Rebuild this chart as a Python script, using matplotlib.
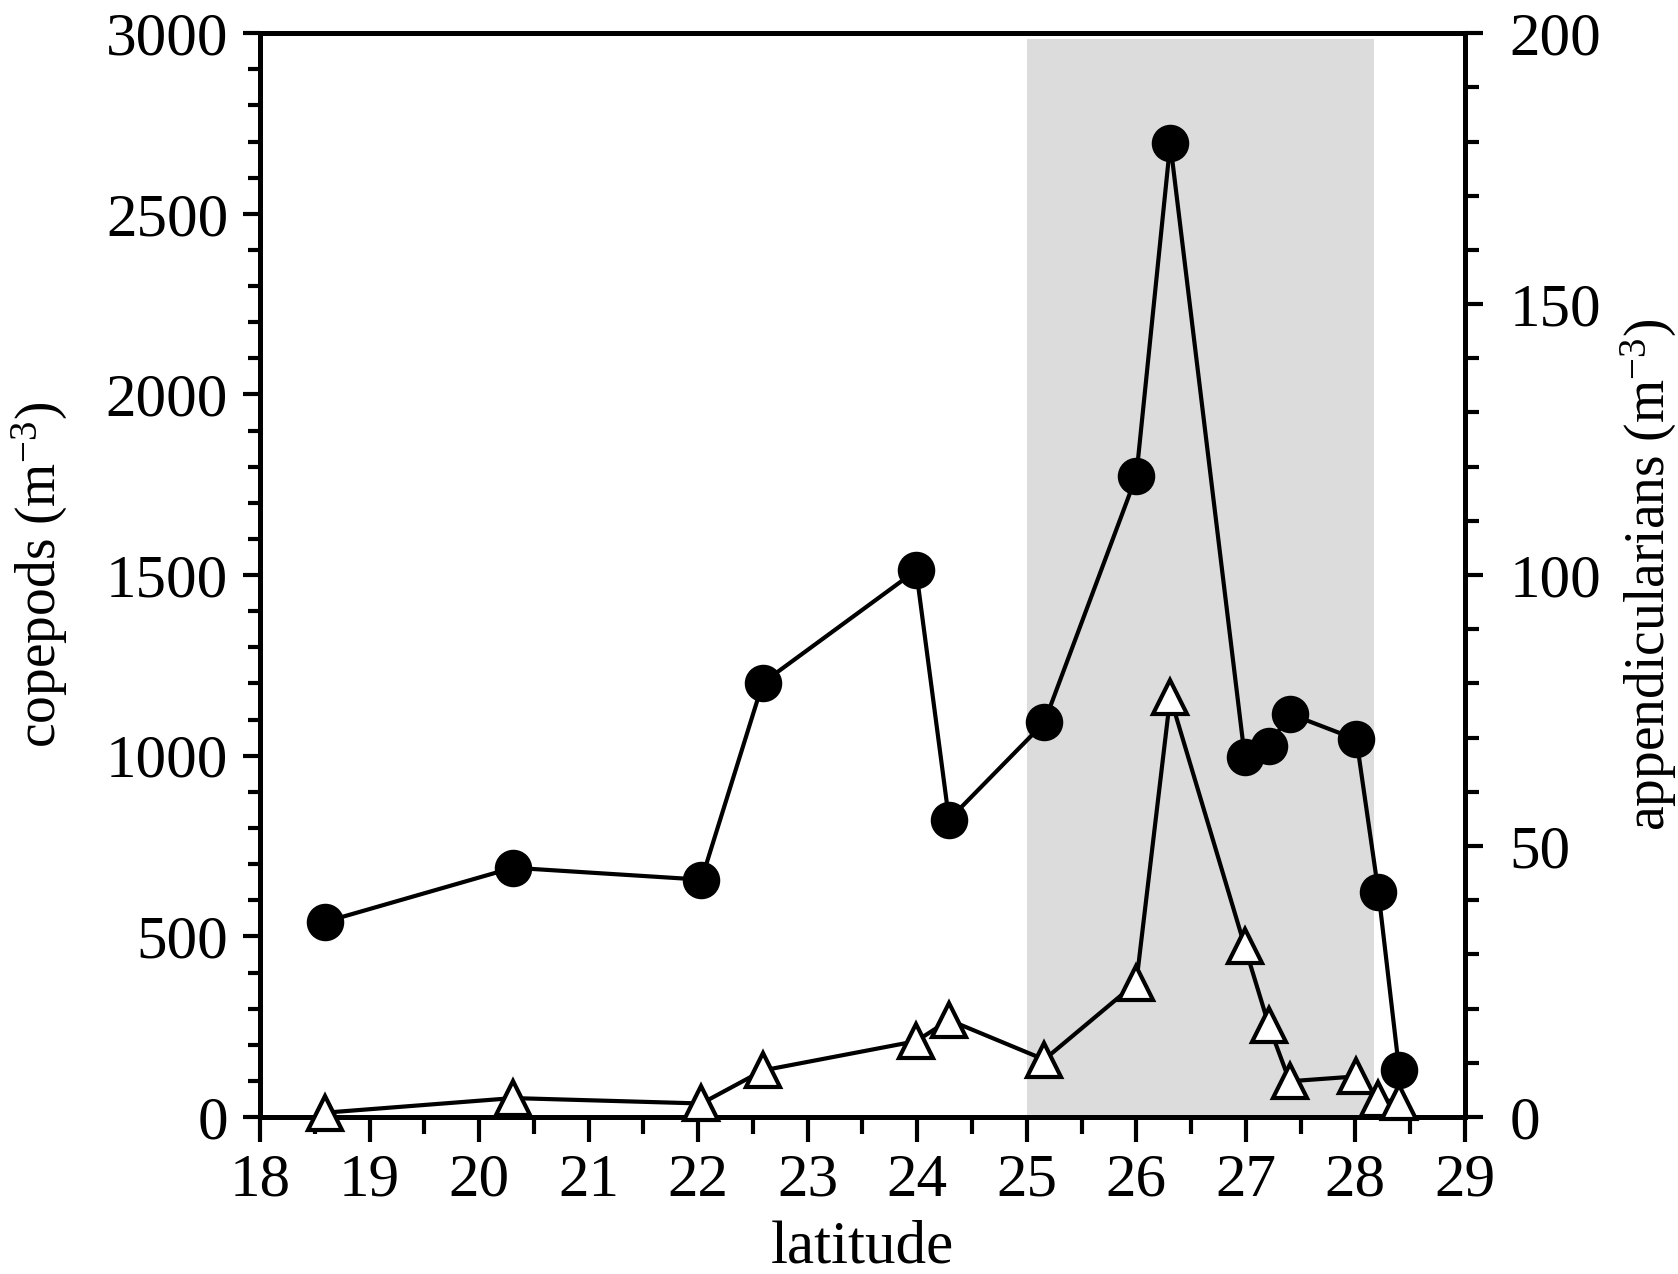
import matplotlib.pyplot as plt
from matplotlib.ticker import MultipleLocator

plt.rcParams['font.family'] = ['Liberation Serif', 'DejaVu Serif']
plt.rcParams['mathtext.fontset'] = 'custom'
plt.rcParams['mathtext.rm'] = 'Liberation Serif'
plt.rcParams['mathtext.it'] = 'Liberation Serif:italic'

# latitude of stations
lat = [18.59, 20.31, 22.03, 22.59, 23.99, 24.29, 25.16, 26.0, 26.31,
       26.99, 27.21, 27.40, 28.01, 28.21, 28.40]
# copepods (m^-3), left axis
copepods = [540, 690, 657, 1202, 1513, 823, 1092, 1774, 2695,
            997, 1027, 1116, 1045, 624, 130]
# appendicularians (m^-3), right axis
appendic = [0.8, 3.5, 2.5, 8.6, 14.0, 17.9, 10.6, 24.8, 77.5,
            31.5, 16.9, 6.6, 7.5, 3.3, 2.7]
# shaded latitude band
band = (25.0, 28.17)
band_top = 2985

fs = 44
fs_ylab = 40

fig = plt.figure(figsize=(16.78, 12.74), dpi=100)
ax = fig.add_axes([0.155, 0.1232, 0.718, 0.8508])
ax2 = ax.twinx()

ax.fill_between(band, 0, band_top, color='#dcdcdc', lw=0, zorder=0)
ax.plot(lat, copepods, '-o', color='black', lw=3, ms=26, mfc='black',
        mec='black', zorder=3)
ax2.plot(lat, appendic, '-^', color='black', lw=3, ms=24, mfc='white',
         mec='black', mew=3, zorder=3, clip_on=False)

ax.set_xlim(18, 29)
ax.set_ylim(0, 3000)
ax2.set_ylim(0, 200)

ax.xaxis.set_major_locator(MultipleLocator(1))
ax.xaxis.set_minor_locator(MultipleLocator(0.5))
ax.yaxis.set_major_locator(MultipleLocator(500))
ax.yaxis.set_minor_locator(MultipleLocator(100))
ax2.yaxis.set_major_locator(MultipleLocator(50))
ax2.yaxis.set_minor_locator(MultipleLocator(10))

for a in (ax, ax2):
    for s in a.spines.values():
        s.set_linewidth(3.5)
ax.tick_params(axis='x', which='major', direction='out', length=18, width=3,
               labelsize=fs, pad=8, top=False)
ax.tick_params(axis='x', which='minor', direction='out', length=12, width=3,
               top=False)
ax.tick_params(axis='y', which='major', direction='out', length=12, width=3,
               labelsize=fs, pad=11, right=False)
ax.tick_params(axis='y', which='minor', direction='out', length=8.5, width=3,
               right=False)
ax2.tick_params(axis='y', which='major', direction='out', length=13, width=3,
                labelsize=fs, pad=19)
ax2.tick_params(axis='y', which='minor', direction='out', length=10, width=3)

ax.set_xlabel('latitude', fontsize=fs, labelpad=8)
ax.set_ylabel(r'copepods (m$^{-3}$)', fontsize=fs_ylab, labelpad=26)
ax2.set_ylabel(r'appendicularians (m$^{-3}$)', fontsize=fs_ylab, labelpad=13)

ax.set_zorder(ax2.get_zorder() - 1)
ax2.patch.set_visible(False)
ax.patch.set_visible(True)

fig.savefig('out.png', dpi=100)
